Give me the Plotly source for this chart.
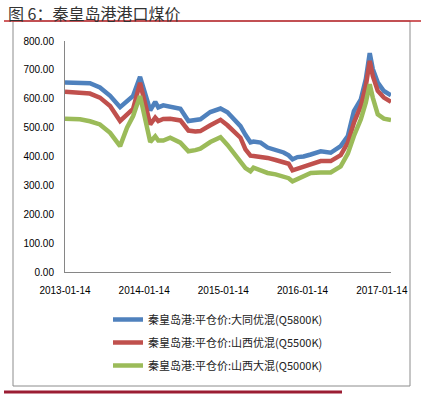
import plotly.graph_objects as go

dates = [
    "2013-01-14", "2013-02-15", "2013-03-24", "2013-05-09", "2013-06-24", "2013-08-10",
    "2013-09-25", "2013-10-27", "2013-11-24", "2013-12-26", "2014-01-14", "2014-02-11",
    "2014-03-06", "2014-03-20", "2014-04-12", "2014-05-14", "2014-06-30", "2014-08-06",
    "2014-09-07", "2014-09-30", "2014-11-15", "2015-01-01", "2015-02-02", "2015-03-02",
    "2015-04-03", "2015-04-26", "2015-05-19", "2015-06-02", "2015-07-05", "2015-08-06",
    "2015-09-12", "2015-10-19", "2015-11-11", "2015-11-29", "2015-12-22", "2016-01-19",
    "2016-02-21", "2016-04-07", "2016-05-23", "2016-07-08", "2016-08-10", "2016-09-07",
    "2016-10-09", "2016-11-01", "2016-11-19", "2016-12-03", "2016-12-26", "2017-01-23",
    "2017-02-25",
]

datong_5800 = [
    656, 656, 655, 654, 639, 610, 571, 592, 610, 676, 625, 560,
    589, 570, 577, 573, 565, 523, 527, 529, 554, 566, 553, 533,
    505, 475, 449, 452, 448, 431, 424, 414, 404, 390, 398, 400,
    407, 418, 413, 436, 471, 557, 598, 668, 758, 703, 656, 627,
    612,
]

shanxi_5500 = [
    624, 623, 620, 618, 604, 575, 523, 545, 565, 655, 600, 511,
    535, 523, 530, 531, 525, 490, 487, 488, 508, 527, 508, 488,
    465, 425, 403, 402, 400, 395, 388, 381, 375, 352, 358, 364,
    372, 384, 384, 405, 448, 517, 575, 645, 731, 679, 627, 604,
    589,
]

shanxi_5000 = [
    531, 530, 529, 522, 511, 482, 436, 500, 540, 610, 545, 450,
    470, 455, 455, 465, 448, 418, 422, 427, 450, 467, 440, 413,
    384, 360, 349, 361, 352, 343, 338, 332, 325, 314, 322, 328,
    343, 345, 345, 366, 410, 471, 529, 587, 650, 604, 546, 531,
    526,
]

series_names = [
    "秦皇岛港:平仓价:大同优混(Q5800K)",
    "秦皇岛港:平仓价:山西优混(Q5500K)",
    "秦皇岛港:平仓价:山西大混(Q5000K)",
]
series_colors = ["#4F81BD", "#C0504D", "#9BBB59"]

tick_dates = ["2013-01-14", "2014-01-14", "2015-01-14", "2016-01-14", "2017-01-14"]
y_ticks = [0, 100, 200, 300, 400, 500, 600, 700, 800]

title_text = "图 6：秦皇岛港港口煤价"

W, H = 428, 394
L, R, T, B = 65, 37, 41, 122
pw, ph = W - L - R, H - T - B


def px_x(p):
    return (p - L) / pw


def px_y(p):
    return (H - B - p) / ph


fig = go.Figure()
for i, (name, vals, col) in enumerate(zip(series_names, [datong_5800, shanxi_5500, shanxi_5000], series_colors)):
    fig.add_trace(go.Scatter(
        x=dates, y=vals, mode="lines", name=name,
        line=dict(color=col, width=4.5), legendgroup=f"g{i}",
    ))

font_fam = "Liberation Sans, Arial, Noto Sans CJK SC, sans-serif"

fig.update_layout(
    width=W, height=H,
    margin=dict(l=L, r=R, t=T, b=B),
    paper_bgcolor="white", plot_bgcolor="white",
    font=dict(family=font_fam, size=10, color="#000000"),
    showlegend=True,
    legend=dict(
        x=px_x(108), y=px_y(305), xanchor="left", yanchor="top",
        orientation="v", tracegroupgap=4,
        font=dict(family="Noto Sans CJK SC, sans-serif", size=11, color="#222222"),
        bgcolor="rgba(0,0,0,0)",
    ),
    xaxis=dict(
        type="date", range=["2013-01-14", "2017-02-25"],
        tickvals=tick_dates, ticktext=tick_dates,
        showgrid=False, zeroline=False,
        showline=True, linecolor="#868686", linewidth=1,
        ticks="", ticklabelstandoff=9, tickfont=dict(size=10, color="#000000"),
    ),
    yaxis=dict(
        range=[0, 800], tickvals=y_ticks,
        ticktext=[f"{v:.2f}" for v in y_ticks],
        showgrid=False, zeroline=False,
        showline=True, linecolor="#868686", linewidth=1,
        ticks="", ticklabelstandoff=8, tickfont=dict(size=10, color="#000000"),
    ),
    annotations=[
        dict(
            text=title_text, xref="paper", yref="paper",
            x=px_x(7), y=px_y(0), xanchor="left", yanchor="top",
            showarrow=False, borderpad=0,
            font=dict(family="Noto Sans CJK SC, sans-serif", size=16, color="#333333"),
        ),
    ],
    shapes=[
        dict(type="rect", xref="paper", yref="paper",
             x0=px_x(13), x1=px_x(410), y0=px_y(386), y1=px_y(21),
             line=dict(color="#8c8c8c", width=1), fillcolor="rgba(0,0,0,0)", layer="below"),
        dict(type="line", xref="paper", yref="paper",
             x0=px_x(4), x1=px_x(421), y0=px_y(21), y1=px_y(21),
             line=dict(color="#C0282D", width=1.5)),
        dict(type="line", xref="paper", yref="paper",
             x0=px_x(4), x1=px_x(342), y0=px_y(392), y1=px_y(392),
             line=dict(color="#9B1D33", width=3)),
    ],
)

fig.write_html("out.html", config={"displayModeBar": False},
               post_script="document.body.style.margin='0';")
